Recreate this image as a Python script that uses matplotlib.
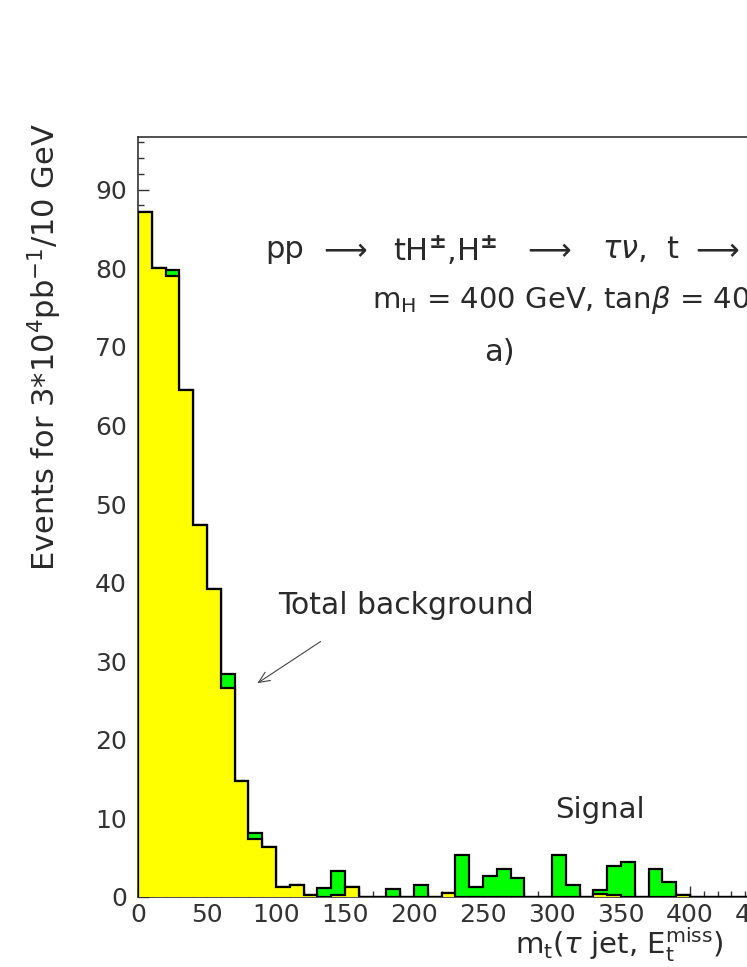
import numpy as np
import matplotlib
matplotlib.use("Agg")
import matplotlib.pyplot as plt
from matplotlib.ticker import MultipleLocator

# bin edges in GeV (10 GeV bins)
bin_edges = list(range(0, 510, 10))
# background (yellow) per bin
background = [87.2, 80.0, 79.0, 64.5, 47.3, 39.2, 26.6, 14.8, 7.4, 6.4,
              1.3, 1.5, 0.3, 0.0, 0.3, 1.3, 0.0, 0.0, 0.0, 0.0,
              0.0, 0.0, 0.5, 0.0, 0.0, 0.0, 0.0, 0.0, 0.0, 0.0,
              0.0, 0.0, 0.0, 0.35, 0.25, 0.0, 0.0, 0.0, 0.0, 0.2,
              0, 0, 0, 0, 0, 0, 0, 0, 0, 0]
# signal (green) stacked on top of background
signal = [0.0, 0.0, 0.8, 0.0, 0.0, 0.0, 1.8, 0.0, 0.8, 0.0,
          0.0, 0.0, 0.0, 1.2, 3.0, 0.0, 0.0, 0.0, 1.0, 0.0,
          1.5, 0.0, 0.0, 5.3, 1.3, 2.7, 3.5, 2.4, 0.0, 0.0,
          5.3, 1.5, 0.0, 0.55, 3.65, 4.4, 0.0, 3.6, 1.9, 0.0,
          0, 0, 0, 0, 0, 0, 0, 0, 0, 0]

# title pieces (process line)
title_parts = ['pp', r'$\longrightarrow$', r'tH$^{\mathbf{\pm}}$,H$^{\mathbf{\pm}}$',
               r'$\longrightarrow$', r'$\tau\nu$,', 't', r'$\longrightarrow$']

edges = np.array(bin_edges, dtype=float)
bg = np.array(background)
total = bg + np.array(signal)

plt.rcParams['mathtext.fontset'] = 'dejavusans'
W, H = 747, 967
fig = plt.figure(figsize=(W / 100, H / 100), dpi=100)

x0, x1 = 138, 138 + 500 * 1.38
y0, y1 = 897, 137
ax = fig.add_axes([x0 / W, 1 - y0 / H, (x1 - x0) / W, (y0 - y1) / H])

ax.stairs(total, edges, baseline=0, fill=True, color='#00ff00', zorder=2)
ax.stairs(total, edges, baseline=0, fill=False, color='black', lw=1.6, zorder=3)
ax.stairs(bg, edges, baseline=0, fill=True, color='#ffff00', zorder=4)
ax.stairs(bg, edges, baseline=0, fill=False, color='black', lw=1.6, zorder=5)

ax.set_xlim(0, 500)
ax.set_ylim(0, (y0 - y1) / 7.86)

ax.xaxis.set_major_locator(MultipleLocator(50))
ax.xaxis.set_minor_locator(MultipleLocator(10))
ax.yaxis.set_major_locator(MultipleLocator(10))
ax.yaxis.set_minor_locator(MultipleLocator(2))
ax.tick_params(which='both', direction='in', top=False, right=False,
               labelsize=18, labelcolor='#333333', color='#333333')
ax.tick_params(which='major', length=8, width=1)
ax.tick_params(which='minor', length=4, width=1)
ax.tick_params(axis='x', pad=4)
ax.tick_params(axis='y', pad=8)
for s in ax.spines.values():
    s.set_color('#333333')
    s.set_linewidth(1.2)

tc = '#2a2a2a'
# process line laid out piece by piece (figure pixel x positions)
part_px = [265, 318, 393, 522, 602, 666, 690]
for txt, px in zip(title_parts, part_px):
    fig.text(px / W, 1 - 250 / H, txt, fontsize=22, color=tc, va='center', ha='left')

ax.text(169.6, 76.0, r'm$_{\mathrm{H}}$ = 400 GeV, tan$\beta$ = 40',
        fontsize=21, color=tc, va='center', ha='left')
ax.text(262, 69.3, 'a)', fontsize=22, color=tc, va='center', ha='center')
ax.text(101.4, 37.1, 'Total background', fontsize=21.5, color=tc, va='center', ha='left')
ax.text(302, 11.1, 'Signal', fontsize=21, color=tc, va='center', ha='left')
ax.annotate('', xy=(84.8, 27.0), xytext=(134, 32.7),
            arrowprops=dict(arrowstyle='->,head_length=0.8,head_width=0.35',
                            color='#444444', lw=0.8))

fig.text(45 / W, 1 - 347 / H, r'Events for 3$*$10$^{4}$pb$^{-1}$/10 GeV',
         rotation=90, fontsize=22, color=tc, va='center', ha='center')
fig.text(515 / W, 1 - 945 / H, r'm$_{\mathrm{t}}$($\tau$ jet, E$_{\mathrm{t}}^{\mathrm{miss}}$)',
         fontsize=21, color=tc, va='center', ha='left')

fig.savefig('out.png', dpi=100)
